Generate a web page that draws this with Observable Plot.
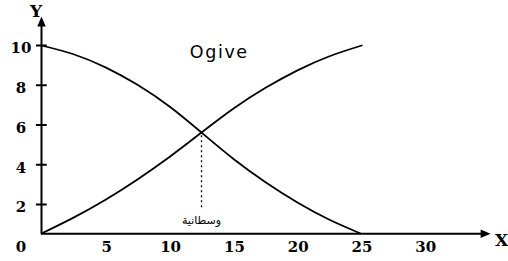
<!DOCTYPE html>
<html><head><meta charset="utf-8">
<script src="https://cdn.jsdelivr.net/npm/d3@7"></script>
<script src="https://cdn.jsdelivr.net/npm/@observablehq/plot@0.6"></script>
<style>
html,body{margin:0;padding:0;background:#fff;}
svg [font-size="17.5"] text{letter-spacing:1.6px;}
</style>
</head><body><div id="chart"></div>
<script>
// Rising ogive (less-than) and falling ogive (more-than)
const riseX = [0, 2.51, 5.02, 7.52, 10.03, 12.54, 15.05, 17.56, 20.06, 22.57, 25.1];
const riseY = [0.54, 1.34, 2.24, 3.26, 4.39, 5.62, 6.83, 7.87, 8.75, 9.46, 10];
const fallX = [0, 2.51, 5.02, 7.52, 10.03, 12.54, 15.05, 17.56, 20.06, 22.57, 25];
const fallY = [10, 9.56, 8.90, 8.02, 6.93, 5.62, 4.29, 3.12, 2.10, 1.23, 0.54];
const yTickValues = [2, 4, 6, 8, 10];
const yLabelValues = [0, 2, 4, 6, 8, 10];
const xLabelValues = [5, 10, 15, 20, 25, 30];
const medianX = 12.54, medianY = 5.62, dashBottom = 1.84;
const medianLabel = "وسطانية";
const titleText = "Ogive";
const baseY = 0.53;          // where the X axis is drawn
const xTip = 35.2, yTip = 11.46;

const rise = riseX.map((x, i) => ({x, y: riseY[i]}));
const fall = fallX.map((x, i) => ({x, y: fallY[i]}));

const arrowHead = {draw(ctx, size) {
  const r = Math.sqrt(size / Math.PI);
  ctx.moveTo(0, 0); ctx.lineTo(r * 0.85, r * 2); ctx.lineTo(-r * 0.85, r * 2); ctx.closePath();
}};

const serif = "DejaVu Serif";
const chart = Plot.plot({
  width: 508, height: 261,
  marginLeft: 41, marginRight: 20.4, marginTop: 45, marginBottom: 17.25,
  x: {domain: [0, 35], axis: null},
  y: {domain: [0, 10], axis: null},
  style: {background: "#fff"},
  marks: [
    Plot.ruleY([baseY], {x1: 0, x2: xTip - 0.4, stroke: "black", strokeWidth: 2}),
    Plot.ruleX([0], {y1: baseY, y2: yTip - 0.25, stroke: "black", strokeWidth: 2}),
    Plot.dot([{x: xTip, y: baseY}], {x: "x", y: "y", symbol: arrowHead, r: 5, rotate: 90, fill: "black", stroke: null}),
    Plot.dot([{x: 0, y: yTip}], {x: "x", y: "y", symbol: arrowHead, r: 5, fill: "black", stroke: null}),
    Plot.ruleY(yTickValues, {y: d => d, x1: -0.4, x2: 0.45, stroke: "black", strokeWidth: 2}),
    Plot.text(yLabelValues, {x: 0, y: d => d, text: d => String(d), dx: -20.5, dy: 3,
      fontSize: 15, fontWeight: "bold", fontFamily: serif, fill: "black"}),
    Plot.text(xLabelValues, {x: d => d, y: 0, text: d => String(d), dx: 1.5, dy: 3,
      fontSize: 15, fontWeight: "bold", fontFamily: serif, fill: "black"}),
    Plot.line(rise, {x: "x", y: "y", curve: "natural", stroke: "black", strokeWidth: 1.8}),
    Plot.line(fall, {x: "x", y: "y", curve: "natural", stroke: "black", strokeWidth: 1.8}),
    Plot.ruleX([medianX], {y1: dashBottom, y2: medianY, stroke: "black", strokeWidth: 1.3, strokeDasharray: "2,3"}),
    Plot.text([medianLabel], {x: medianX, y: 1.19, text: d => d, fontSize: 11, fontFamily: "DejaVu Sans", fill: "black"}),
    Plot.text([titleText], {x: 13.87, y: 9.67, text: d => d, dx: 0.8, fontSize: 17.5, fontFamily: "DejaVu Sans", fill: "black"}),
    Plot.text(["Y"], {x: 0, y: 11.72, text: d => d, dx: -5.5, fontSize: 17, fontWeight: "bold", fontFamily: serif, fill: "black"}),
    Plot.text(["X"], {x: 36.05, y: 0.2, text: d => d, fontSize: 17, fontWeight: "bold", fontFamily: serif, fill: "black"})
  ]
});
document.getElementById("chart").append(chart);
</script>
</body></html>
